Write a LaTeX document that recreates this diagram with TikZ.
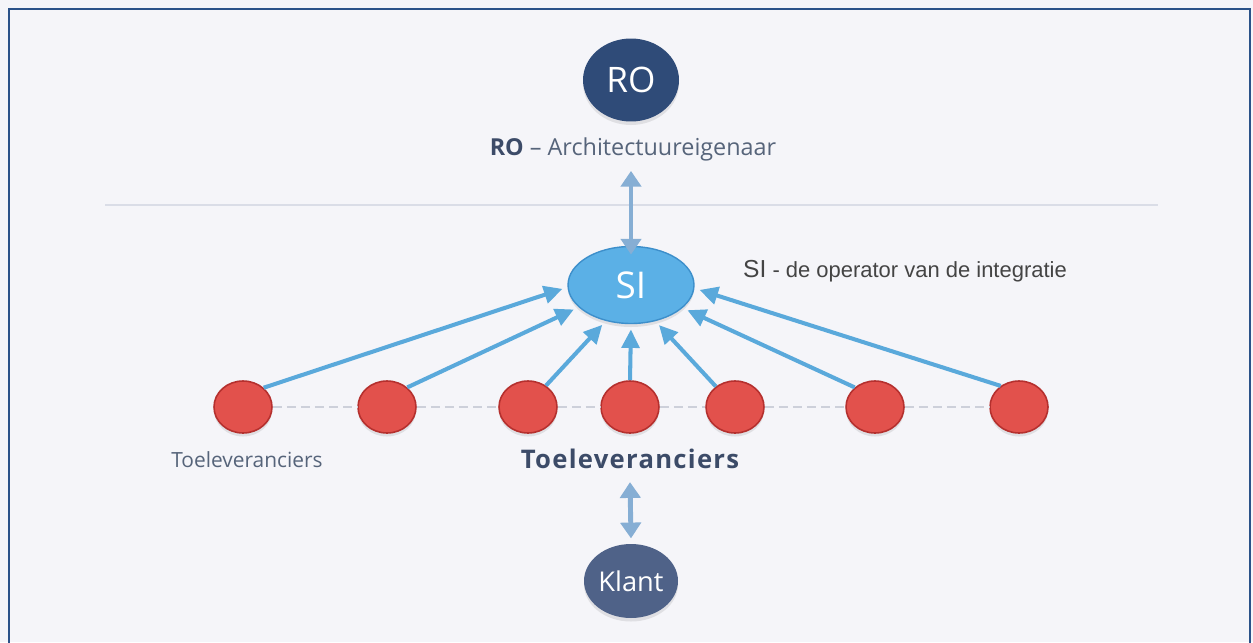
\documentclass[tikz,border=0pt]{standalone}
\usepackage{fontspec}
\setmainfont{Open Sans}
\newfontfamily\arialfont{Liberation Sans}
\newfontfamily\widebold[LetterSpace=5]{Open Sans}
\usetikzlibrary{shapes.geometric,arrows.meta,shadows}

\definecolor{bgcol}{HTML}{F5F5F9}
\definecolor{framecol}{HTML}{2B5289}
\definecolor{rofill}{HTML}{2F4B78}
\definecolor{sifill}{HTML}{5BB0E6}
\definecolor{sidraw}{HTML}{3D8FCB}
\definecolor{redfill}{HTML}{E2514C}
\definecolor{reddraw}{HTML}{B5302E}
\definecolor{klantfill}{HTML}{4F6288}
\definecolor{arrowcol}{HTML}{5AA9DB}
\definecolor{dblcol}{HTML}{86AED4}
\definecolor{rulecol}{HTML}{DADDE7}
\definecolor{dashcol}{HTML}{CDD0DA}
\definecolor{labdark}{HTML}{3C4B68}
\definecolor{labgrey}{HTML}{56647A}
\definecolor{sitext}{HTML}{444444}

\begin{document}
\begin{tikzpicture}[x=0.02cm,y=-0.02cm,
  softshadow/.style={drop shadow={opacity=0.18,shadow xshift=0pt,shadow yshift=-2pt}},
  bignode/.style={ellipse,inner sep=0pt,text=white,softshadow},
  supplier/.style={ellipse,minimum width=1.16cm,minimum height=1.04cm,inner sep=0pt,
    fill=redfill,draw=reddraw,line width=0.9pt,softshadow},
  feed/.style={draw=arrowcol,line width=2.3pt,
    -{Triangle[length=10.5pt,width=10pt]},shorten >=3pt},
  twoway/.style={draw=dblcol,line width=2.8pt,
    {Triangle[length=9pt,width=11.5pt]}-{Triangle[length=9pt,width=11.5pt]}},
  dashlink/.style={draw=dashcol,line width=1.2pt,dash pattern=on 5pt off 3pt}]

\useasboundingbox (0,0) rectangle (1253,642);
\clip (0,0) rectangle (1253,642);
\fill[bgcol] (0,0) rectangle (1253,642);
\draw[framecol,line width=1.5pt] (9,9) rectangle (1250,680);

% separator rule
\draw[rulecol,line width=0.9pt] (105,205) -- (1158,205);

% owner
\node[bignode,fill=rofill,minimum width=1.92cm,minimum height=1.66cm,
  font=\fontsize{20}{22}\selectfont] (ro) at (631,80) {RO};
\node[text=labgrey,font=\fontsize{13.3}{16}\selectfont] (rolab) at (633,149)
  {\textbf{\color{labdark}RO} – Architectuureigenaar};

% integrator
\node[bignode,fill=sifill,draw=sidraw,line width=0.8pt,minimum width=2.52cm,
  minimum height=1.54cm,font=\fontsize{21}{23}\selectfont] (si) at (631,285) {SI};
\node[anchor=west,text=sitext,font=\arialfont\fontsize{12.5}{15}\selectfont] (silab)
  at (737,271) {{\fontsize{14}{15}\selectfont SI} - de operator van de integratie};

\draw[twoway] (rolab.south -| si.north) ++(0,4) coordinate (rotop)
  (rotop) -- ([yshift=-5pt]si.north);

% suppliers
\node[supplier] (r1) at (243,407) {};
\node[supplier] (r2) at (387,407) {};
\node[supplier] (r3) at (528,407) {};
\node[supplier] (r4) at (630,407) {};
\node[supplier] (r5) at (735,407) {};
\node[supplier] (r6) at (875,407) {};
\node[supplier] (r7) at (1019,407) {};

\foreach \a/\b in {r1/r2,r2/r3,r3/r4,r4/r5,r5/r6,r6/r7}
  \draw[dashlink] (\a.east) -- (\b.west);

\draw[feed] (r1.43)  -- (si.182);
\draw[feed] (r2.44)  -- (si.203);
\draw[feed] (r3.50)  -- (si.235);
\draw[feed] (r4.90)  -- (si.270);
\draw[feed] (r5.133) -- (si.304);
\draw[feed] (r6.136) -- (si.336);
\draw[feed] (r7.131) -- (si.357);

\node[text=labgrey,font=\fontsize{11.9}{14}\selectfont] (tsmall) at (247,460) {Toeleveranciers};
\node[text=labdark,font=\widebold\bfseries\fontsize{14.6}{17}\selectfont] (tbig) at (630,459) {Toeleveranciers};

% customer
\node[bignode,fill=klantfill,minimum width=1.88cm,minimum height=1.48cm,
  font=\fontsize{15.5}{18}\selectfont] (klant) at (631,581) {Klant};
\draw[twoway] ([yshift=-4pt]tbig.south) -- ([yshift=3pt]klant.north);
\end{tikzpicture}
\end{document}
